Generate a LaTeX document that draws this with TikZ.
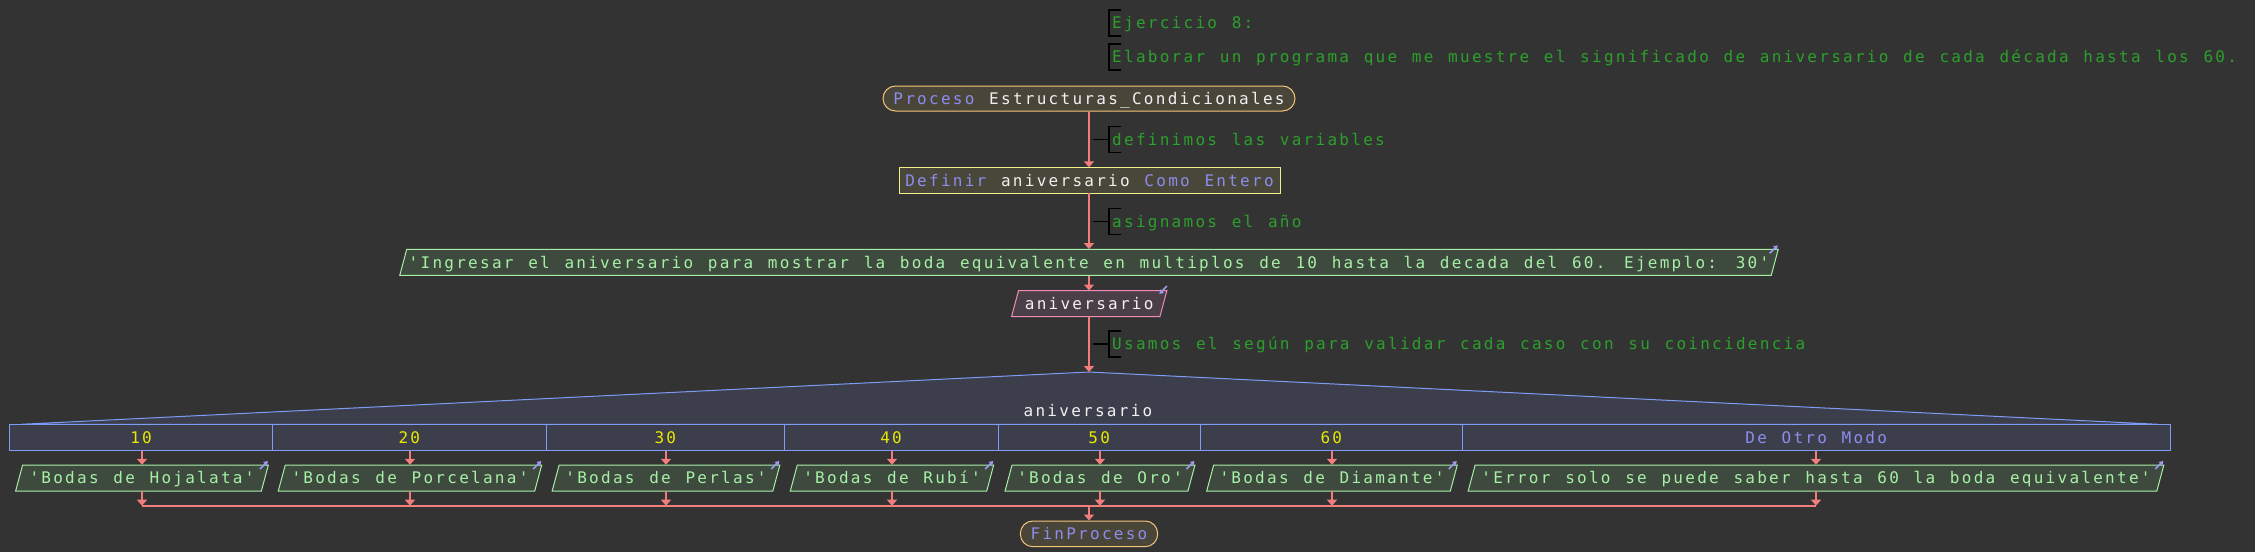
\documentclass[tikz,border=0pt]{standalone}
\usepackage{fontspec}
\newfontfamily\pmono[LetterSpace=14.2, WordSpace={1.236,0,0}]{DejaVu Sans Mono}
\usetikzlibrary{arrows.meta}
\definecolor{bg}{HTML}{333333}
\definecolor{cmt}{HTML}{2CA02C}
\definecolor{kw}{HTML}{8C8CEC}
\definecolor{wt}{HTML}{F0F0F0}
\definecolor{flow}{HTML}{F27D7D}
\definecolor{procfill}{HTML}{4A4539}
\definecolor{procdraw}{HTML}{F5C67A}
\definecolor{deffill}{HTML}{48473A}
\definecolor{defdraw}{HTML}{F2F28A}
\definecolor{outfill}{HTML}{3F4A3F}
\definecolor{outdraw}{HTML}{A6F0A6}
\definecolor{infill}{HTML}{4A3F46}
\definecolor{indraw}{HTML}{F28CB4}
\definecolor{segfill}{HTML}{3C3F4B}
\definecolor{segdraw}{HTML}{7E9CF5}
\definecolor{caseval}{HTML}{E8E800}
\definecolor{iconc}{HTML}{9A9AF0}
\tikzset{
  every node/.style={font=\pmono\fontsize{16}{19}\selectfont, inner sep=0pt, text height=11.6pt, text depth=0pt},
  flowline/.style={draw=flow, line width=2pt},
  flowarrow/.style={flowline, -{Triangle[width=10pt,length=6pt]}},
  terminal/.style={draw=procdraw, fill=procfill, rounded corners=12.5pt, minimum height=25pt, line width=1pt, text=wt},
  defbox/.style={draw=defdraw, fill=deffill, minimum height=26pt, line width=1pt, text=wt},
  outshape/.style={fill=outfill, draw=outdraw, line width=1pt},
  inshape/.style={fill=infill, draw=indraw, line width=1pt},
  iconarrow/.style={draw=iconc, line width=1.6pt, -{Triangle[width=5pt,length=4pt]}},
  casecell/.style={draw=segdraw, line width=1pt, minimum height=26pt, text=caseval},
  bracket/.style={draw=black, line width=1.2pt},
  cmttext/.style={text=cmt, anchor=west},
}
% output parallelogram: name, x, y, width, text
\newcommand\pout[5]{%
  \path[outshape] ({#2-#4/2+3.5},{#3-13}) -- ({#2+#4/2+3.5},{#3-13}) -- ({#2+#4/2-3.5},{#3+13}) -- ({#2-#4/2-3.5},{#3+13}) -- cycle;
  \node[minimum width=#4pt, minimum height=26pt, text=outdraw] (#1) at (#2,#3) {#5};
  \draw[iconarrow] ({#2+#4/2+3.5-8.5},{#3-13+4}) -- ++(8,-8);
}
% input parallelogram
\newcommand\pin[5]{%
  \path[inshape] ({#2-#4/2+3.5},{#3-13}) -- ({#2+#4/2+3.5},{#3-13}) -- ({#2+#4/2-3.5},{#3+13}) -- ({#2-#4/2-3.5},{#3+13}) -- cycle;
  \node[minimum width=#4pt, minimum height=26pt, text=wt] (#1) at (#2,#3) {#5};
  \draw[iconarrow] ({#2+#4/2+3.5},{#3-13-4.7}) -- ++(-7.5,8);
}
% comment: name, y, text, stub (1/0)
\newcommand\pcmt[4]{%
  \draw[bracket] (1121,{#2-13}) -- (1109,{#2-13}) -- (1109,{#2+13}) -- (1121,{#2+13});
  \ifnum#4=1 \draw[bracket] (1093,#2) -- (1109,#2);\fi
  \node[cmttext] (#1) at (1112,#2) {#3};
}
\begin{document}
\begin{tikzpicture}[x=1pt,y=-1pt]
\fill[bg] (0,0) rectangle (2255,552);

% comments
\pcmt{c0}{23}{Ejercicio 8:}{0}
\pcmt{c1}{57}{Elaborar un programa que me muestre el significado de aniversario de cada década hasta los 60.}{0}

% process start
\node[terminal, minimum width=412pt] (proc) at (1089,98.5) {{\color{kw}Proceso} Estructuras\_Condicionales};
\node[defbox, minimum width=381pt] (def) at (1089.5,180.3) {{\color{kw}Definir} aniversario {\color{kw}Como Entero}};
\pout{out0}{1089}{262.3}{1371.5}{'Ingresar el aniversario para mostrar la boda equivalente en multiplos de 10 hasta la decada del 60. Ejemplo: 30'}
\pin{in1}{1089.2}{303.7}{148.35}{aniversario}

\draw[flowarrow] (proc.south -| 1089,0) -- (1089,167.3);
\draw[flowarrow] (1089,193.3) -- (out0.north -| 1089,0);
\draw[flowarrow] (out0.south -| 1089,0) -- (in1.north -| 1089,0);

% segun
\coordinate (segtop) at (1089,372);
\path[fill=segfill, draw=segdraw, line width=1pt] (21,424.3) -- (segtop) -- (2158,424.3) -- cycle;
\path[fill=segfill] (9.8,424.3) rectangle (2170.2,450.3);
\draw[flowarrow] (in1.south -| 1089,0) -- (segtop);

\pcmt{c2}{139.3}{definimos las variables}{1}
\pcmt{c3}{221.3}{asignamos el año}{1}
\pcmt{c4}{344}{Usamos el según para validar cada caso con su coincidencia}{1}

\node[text=wt] (seglabel) at (1088,411) {aniversario};
\node[casecell, minimum width=262.5pt] (k1) at (141.05,437.3) {10};
\node[casecell, minimum width=274.1pt] (k2) at (409.35,437.3) {20};
\node[casecell, minimum width=237.8pt] (k3) at (665.3,437.3) {30};
\node[casecell, minimum width=213.8pt] (k4) at (891.1,437.3) {40};
\node[casecell, minimum width=202.5pt] (k5) at (1099.25,437.3) {50};
\node[casecell, minimum width=261.7pt] (k6) at (1331.35,437.3) {60};
\node[casecell, minimum width=708pt, text=kw] (k7) at (1816.2,437.3) {De Otro Modo};

% case outputs
\pout{b1}{142}{478}{245.75}{'Bodas de Hojalata'}
\pout{b2}{410}{478}{256.45}{'Bodas de Porcelana'}
\pout{b3}{666}{478}{220.7}{'Bodas de Perlas'}
\pout{b4}{892}{478}{196.4}{'Bodas de Rubí'}
\pout{b5}{1100}{478}{182.9}{'Bodas de Oro'}
\pout{b6}{1332}{478}{243.6}{'Bodas de Diamante'}
\pout{b7}{1816}{478}{688.65}{'Error solo se puede saber hasta 60 la boda equivalente'}

\foreach \b/\k in {b1/k1,b2/k2,b3/k3,b4/k4,b5/k5,b6/k6,b7/k7}{
  \draw[flowarrow] (\b.north |- \k.south) -- (\b.north);
}
\coordinate (joinL) at (142,505.7);
\coordinate (joinR) at (1816,505.7);
\coordinate (joinM) at (1089,505.7);
\draw[flowline] (joinL) -- (joinR);
\foreach \b in {b1,b2,b3,b4,b5,b6,b7}{
  \draw[flowarrow] (\b.south) -- (\b.south |- joinL);
}
\node[terminal, minimum width=137.3pt, minimum height=25.7pt, text=kw] (fin) at (1089,533.85) {FinProceso};
\draw[flowarrow] (joinM) -- (fin.north);
\end{tikzpicture}
\end{document}
